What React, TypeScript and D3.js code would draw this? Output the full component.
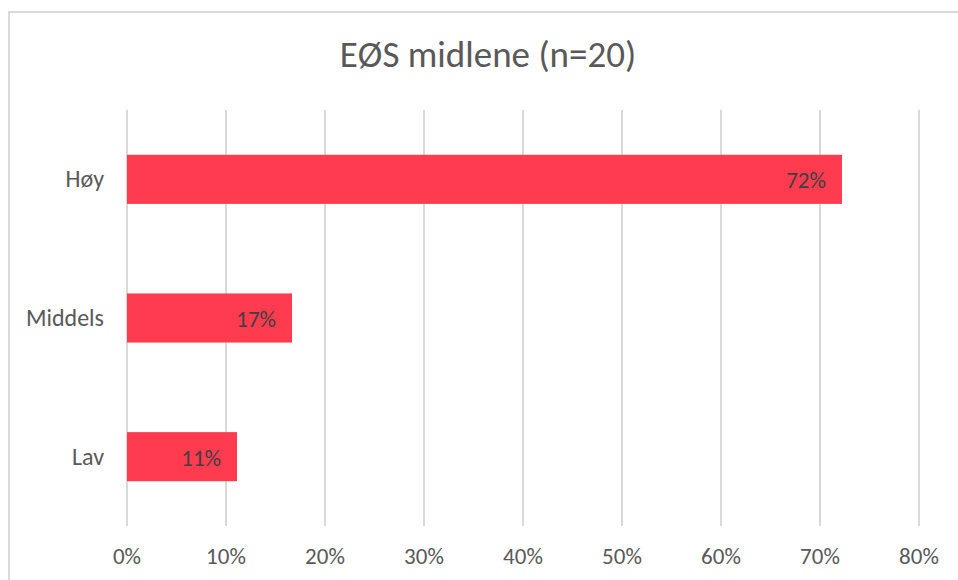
import React from "react";
import * as d3 from "d3";

const categories: string[] = ["Høy", "Middels", "Lav"];
const values: number[] = [0.7222, 0.1667, 0.1111];
const xTicks: number[] = [0, 0.1, 0.2, 0.3, 0.4, 0.5, 0.6, 0.7, 0.8];
const title = "EØS midlene (n=20)";

const W = 958;
const H = 580;
const FONT = "Calibri, Carlito, Lato, sans-serif";

export default function App() {
  const x = d3.scaleLinear().domain([0, 0.8]).range([127, 919]);
  const y = d3
    .scaleBand<string>()
    .domain(categories)
    .range([110, 526])
    .paddingInner(0.646)
    .paddingOuter(0.323);
  const fmt = d3.format(".0%");

  return (
    <svg
      width={W}
      height={H}
      style={{ position: "absolute", left: 0, top: 0, background: "#fff" }}
    >
      <rect x={0} y={0} width={W} height={H} fill="#ffffff" />
      <rect
        x={9}
        y={12}
        width={1200}
        height={1200}
        fill="none"
        stroke="#d9d9d9"
        strokeWidth={2}
      />
      <text
        x={488}
        y={67}
        textAnchor="middle"
        fontFamily={FONT}
        fontSize={37}
        fill="#595959"
      >
        {title}
      </text>
      {xTicks.map((t) => (
        <g key={t}>
          <line
            x1={x(t)}
            x2={x(t)}
            y1={110}
            y2={526}
            stroke="#d9d9d9"
            strokeWidth={2}
          />
          <text
            x={x(t)}
            y={564}
            textAnchor="middle"
            fontFamily={FONT}
            fontSize={23}
            fill="#595959"
          >
            {fmt(t)}
          </text>
        </g>
      ))}
      {categories.map((c, i) => {
        const yc = (y(c) as number) + y.bandwidth() / 2;
        return (
          <g key={c}>
            <rect
              x={x(0)}
              y={y(c)}
              width={x(values[i]) - x(0)}
              height={y.bandwidth()}
              fill="#ff3b50"
            />
            <text
              x={104}
              y={yc + 8}
              textAnchor="end"
              fontFamily={FONT}
              fontSize={24}
              fill="#595959"
            >
              {c}
            </text>
            <text
              x={x(values[i]) - 16}
              y={yc + 9}
              textAnchor="end"
              fontFamily={FONT}
              fontSize={23}
              fill="#404040"
            >
              {fmt(values[i])}
            </text>
          </g>
        );
      })}
    </svg>
  );
}
